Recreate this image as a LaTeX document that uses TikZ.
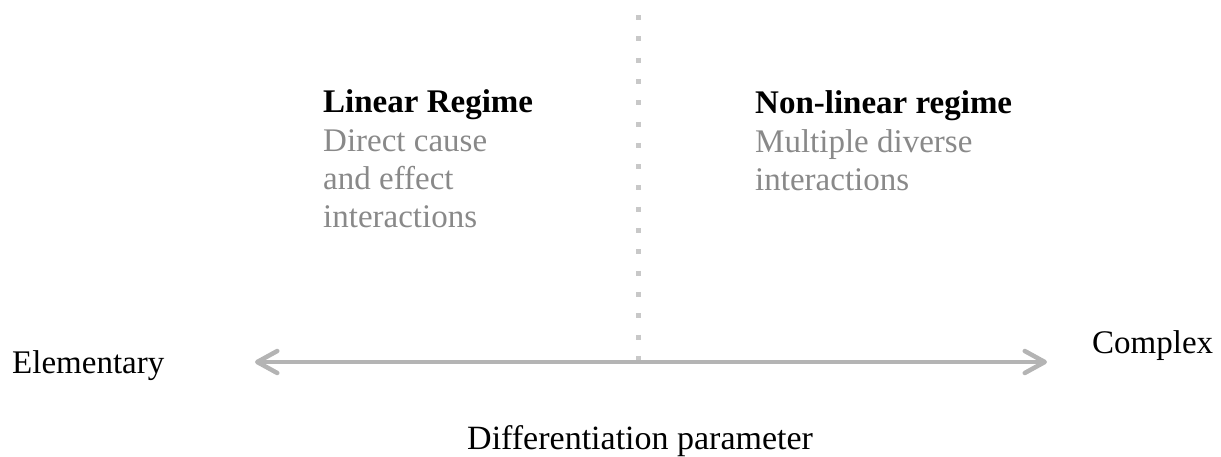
\documentclass[tikz,border=0pt]{standalone}
\usepackage{fontspec}
\setmainfont{Liberation Serif}
\usetikzlibrary{arrows.meta}
\definecolor{bodygray}{RGB}{137,137,137}
\definecolor{axisgray}{RGB}{180,180,180}
\definecolor{dotgray}{RGB}{200,200,200}
\newcommand{\stacklines}[1]{\vtop{\baselineskip=38pt\halign{##\hfil\cr#1\crcr}}}
\tikzset{
  label/.style={inner sep=0pt, anchor=base west, font=\fontsize{33}{38}\selectfont},
  heading/.style={label, font=\fontsize{33}{38}\selectfont\bfseries},
  desc/.style={label, text=bodygray},
  axis/.style={draw=axisgray, line width=4.5pt,
    {Straight Barb[length=20pt,width=22pt,round]}-{Straight Barb[length=20pt,width=22pt,round]}},
  divider/.style={draw=dotgray, line width=5pt, dash pattern=on 5pt off 16.3pt}
}
\begin{document}
\begin{tikzpicture}[x=1pt,y=-1pt]
\useasboundingbox (0,0) rectangle (1221,456);
% vertical divider between the two regimes
\coordinate (dtop) at (638,15);
\coordinate (dbot) at (638,361);
\draw[divider] (dtop) -- (dbot);
% horizontal axis
\coordinate (aleft) at (255,362);
\coordinate (aright) at (1047,362);
\draw[axis] (aleft) -- (aright);
% axis labels
\node[label] (elem) at (12,373) {Elementary};
\node[label] (cplx) at (1092,353) {Complex};
\node[label, font=\fontsize{34}{38}\selectfont] (diff) at (467,449) {Differentiation parameter};
% regime descriptions
\node[heading] (lin) at (323,112) {Linear Regime};
\node[desc] (lindesc) at (323,151) {\stacklines{Direct cause\cr and effect\cr interactions}};
\node[heading] (nonlin) at (755,113) {Non-linear regime};
\node[desc] (nonlindesc) at (755,152) {\stacklines{Multiple diverse\cr interactions}};
\end{tikzpicture}
\end{document}
